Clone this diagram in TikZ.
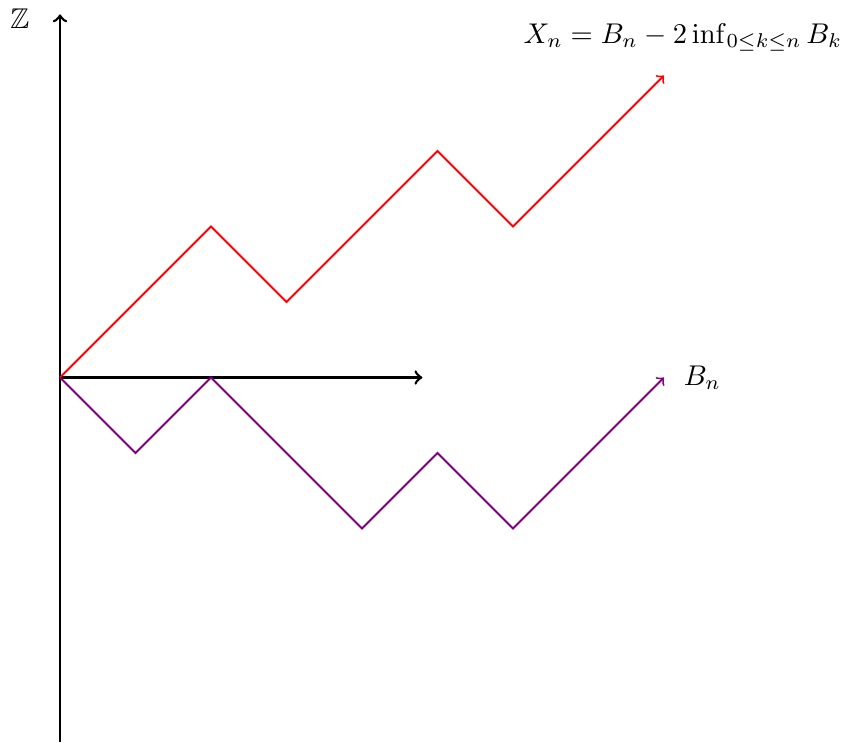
\documentclass[tikz,border=0pt]{standalone}
\usepackage{amssymb}
\begin{document}
\begin{tikzpicture}[
  axis/.style={line width=1pt,->},
  walkX/.style={red,line width=0.7pt,->},
  walkB/.style={violet,line width=0.7pt,->},
  lbl/.style={scale=1.075}]
\useasboundingbox (-0.795,-4.83) rectangle (10.384,5.0);
\coordinate (O) at (0,0);
\coordinate (ytop) at (0,4.81);
\coordinate (ybot) at (0,-4.83);
\coordinate (xend) at (4.8,0);
\draw[axis] (ybot) -- (ytop);
\draw[axis] (O) -- (xend);
\node[lbl] (Z) at (-0.53,4.75) {$\mathbb{Z}$};
% X path
\coordinate (x2) at (2,2);
\coordinate (x3) at (3,1);
\coordinate (x5) at (5,3);
\coordinate (x6) at (6,2);
\coordinate (x8) at (8,4);
\draw[walkX] (O) -- (x2) -- (x3) -- (x5) -- (x6) -- (x8);
% B path
\coordinate (b1) at (1,-1);
\coordinate (b2) at (2,0);
\coordinate (b4) at (4,-2);
\coordinate (b5) at (5,-1);
\coordinate (b6) at (6,-2);
\coordinate (b8) at (8,0);
\draw[walkB] (O) -- (b1) -- (b2) -- (b4) -- (b5) -- (b6) -- (b8);
\node[lbl,right,xshift=0.12cm] (Bl) at (b8) {$B_n$};
\node[lbl] (Xl) at (8.25,4.5) {$X_n = B_n - 2\inf_{0\leq k\leq n} B_k$};
\end{tikzpicture}
\end{document}
